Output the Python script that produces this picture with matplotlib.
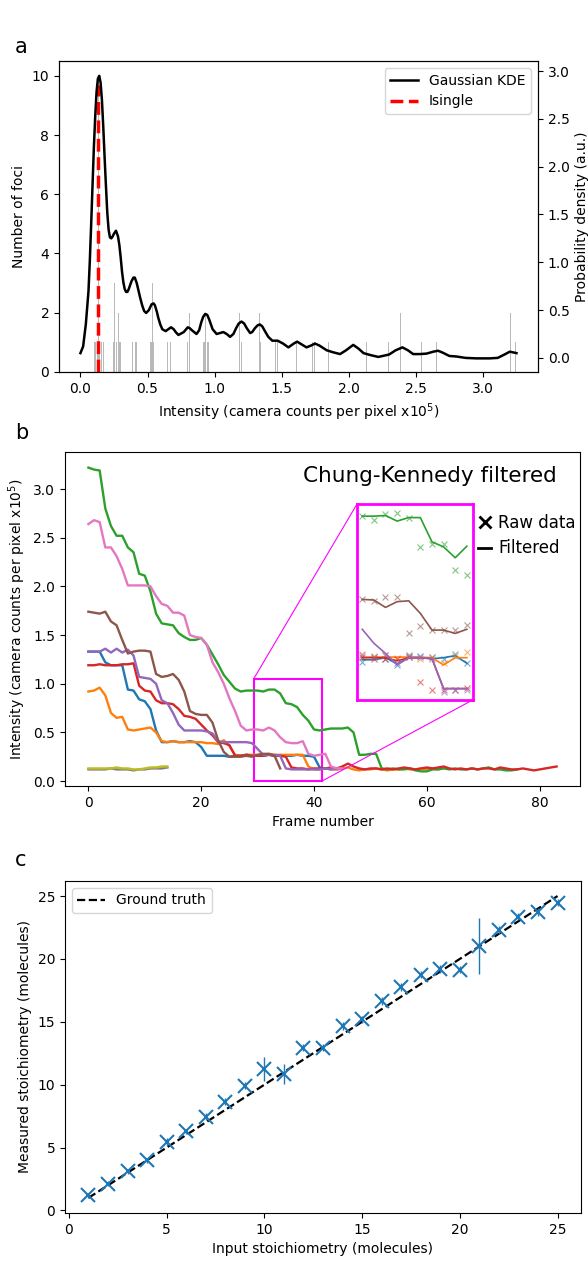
import numpy as np
import matplotlib
matplotlib.use("Agg")
import matplotlib.pyplot as plt
from matplotlib.lines import Line2D
from matplotlib.patches import Rectangle, ConnectionPatch

# ---------------- panel a data ----------------
hist_x = [0.105, 0.115, 0.125, 0.133, 0.145, 0.155, 0.170,
          0.245, 0.257, 0.265, 0.272, 0.283, 0.290, 0.298,
          0.390, 0.399, 0.410, 0.420,
          0.520, 0.530, 0.540, 0.548,
          0.650, 0.670,
          0.798, 0.811,
          0.915, 0.925, 0.933, 0.945, 0.955,
          1.055,
          1.188, 1.200,
          1.333, 1.345,
          1.455, 1.470,
          1.610,
          1.730, 1.745,
          1.850,
          2.130,
          2.295,
          2.386,
          2.540,
          2.655,
          3.205, 3.245]
hist_n = [1, 1, 1, 10, 1, 1, 1,
          1, 3, 2, 1, 2, 1, 1,
          1, 2, 1, 1,
          1, 1, 3, 1,
          1, 1,
          1, 2,
          1, 1, 2, 1, 1,
          1,
          2, 1,
          2, 1,
          1, 1,
          1,
          1, 1,
          1,
          1,
          1,
          2,
          1,
          1,
          2, 1]

kde_x = [0.00, 0.02, 0.04, 0.06, 0.07, 0.08, 0.09, 0.10, 0.11, 0.12,
         0.13, 0.14, 0.15, 0.16, 0.17, 0.18, 0.19, 0.20, 0.21, 0.22,
         0.23, 0.24, 0.25, 0.265, 0.28, 0.29, 0.30, 0.31, 0.32, 0.33,
         0.34, 0.35, 0.36, 0.38, 0.395, 0.405, 0.42, 0.43, 0.445, 0.46,
         0.475, 0.49, 0.51, 0.53, 0.545, 0.555, 0.57, 0.58, 0.595, 0.61,
         0.635, 0.655, 0.675, 0.695, 0.71, 0.73, 0.77, 0.80, 0.815, 0.83,
         0.865, 0.885, 0.90, 0.915, 0.93, 0.945, 0.96, 0.985, 1.015, 1.04,
         1.065, 1.09, 1.115, 1.14, 1.16, 1.18, 1.20, 1.22, 1.24, 1.265,
         1.28, 1.30, 1.32, 1.337, 1.355, 1.375, 1.40, 1.43, 1.47, 1.51,
         1.55, 1.59, 1.615, 1.65, 1.685, 1.72, 1.748, 1.78, 1.835, 1.88,
         1.935, 1.98, 2.033, 2.07, 2.11, 2.16, 2.22, 2.30, 2.35, 2.40,
         2.44, 2.48, 2.53, 2.58, 2.63, 2.665, 2.70, 2.75, 2.80, 2.87,
         2.95, 3.05, 3.11, 3.16, 3.20, 3.25]
kde_y = [0.05, 0.12, 0.35, 0.70, 1.02, 1.40, 1.80, 2.20, 2.52, 2.78,
         2.92, 2.95, 2.88, 2.70, 2.42, 2.10, 1.80, 1.52, 1.34, 1.26,
         1.25, 1.27, 1.30, 1.33, 1.27, 1.18, 1.05, 0.90, 0.79, 0.72,
         0.69, 0.69, 0.72, 0.80, 0.84, 0.84, 0.78, 0.72, 0.63, 0.55,
         0.49, 0.47, 0.50, 0.56, 0.57, 0.55, 0.48, 0.42, 0.35, 0.30,
         0.28, 0.30, 0.32, 0.30, 0.27, 0.24, 0.27, 0.32, 0.31, 0.29,
         0.25, 0.29, 0.37, 0.43, 0.46, 0.45, 0.40, 0.30, 0.25, 0.26,
         0.27, 0.25, 0.22, 0.25, 0.31, 0.36, 0.38, 0.36, 0.31, 0.26,
         0.27, 0.31, 0.34, 0.35, 0.33, 0.28, 0.22, 0.18, 0.18, 0.15,
         0.11, 0.15, 0.17, 0.14, 0.11, 0.13, 0.15, 0.13, 0.08, 0.06,
         0.04, 0.08, 0.136, 0.10, 0.05, 0.03, 0.01, 0.035, 0.08, 0.11,
         0.08, 0.04, 0.04, 0.045, 0.065, 0.075, 0.055, 0.02, 0.015, 0.0,
         -0.005, -0.005, 0.0, 0.035, 0.065, 0.05]
i_single = 0.133

# ---------------- panel b data ----------------
blue = [1.33, 1.33, 1.33, 1.22, 1.19, 1.19, 1.19, 0.94, 0.93, 0.84,
        0.82, 0.74, 0.52, 0.40, 0.40, 0.41, 0.40, 0.40, 0.41, 0.40,
        0.35, 0.26, 0.26, 0.26, 0.26, 0.25, 0.26, 0.26, 0.27, 0.26,
        0.26, 0.26, 0.27, 0.26, 0.26, 0.26, 0.26, 0.27, 0.26, 0.26,
        0.25, 0.14, 0.13, 0.13, 0.12, 0.13]
orange = [0.92, 0.93, 0.96, 0.88, 0.70, 0.65, 0.66, 0.53, 0.52, 0.53,
          0.54, 0.55, 0.50, 0.41, 0.40, 0.41, 0.40, 0.40, 0.40, 0.40,
          0.40, 0.39, 0.39, 0.38, 0.42, 0.36, 0.27, 0.26, 0.27, 0.27,
          0.27, 0.27, 0.28, 0.27, 0.27, 0.27, 0.27, 0.27, 0.27, 0.15,
          0.12, 0.12, 0.13, 0.12, 0.12, 0.13, 0.14, 0.12, 0.11, 0.12,
          0.12, 0.13, 0.12, 0.11, 0.12, 0.12, 0.13, 0.12, 0.12, 0.13,
          0.12, 0.13, 0.12]
green = [3.22, 3.20, 3.19, 2.80, 2.62, 2.52, 2.52, 2.40, 2.35, 2.13,
         2.11, 1.95, 1.72, 1.62, 1.61, 1.60, 1.52, 1.48, 1.45, 1.45,
         1.47, 1.40, 1.30, 1.20, 1.09, 1.02, 0.95, 0.92, 0.93, 0.93,
         0.93, 0.92, 0.94, 0.94, 0.90, 0.80, 0.79, 0.76, 0.68, 0.62,
         0.53, 0.52, 0.53, 0.54, 0.54, 0.54, 0.55, 0.50, 0.27, 0.27,
         0.28, 0.28, 0.13, 0.12, 0.13, 0.12, 0.12, 0.13, 0.11, 0.10,
         0.10, 0.12, 0.12, 0.13, 0.12, 0.13, 0.12, 0.12, 0.13, 0.12,
         0.13, 0.14, 0.12, 0.12, 0.11, 0.11, 0.12]
red = [1.19, 1.19, 1.20, 1.19, 1.19, 1.19, 1.20, 1.20, 1.21,
       0.98, 0.93, 0.92, 0.83, 0.80, 0.80, 0.79, 0.74, 0.67,
       0.66, 0.64, 0.58, 0.52, 0.47, 0.40, 0.39, 0.37,
       0.26, 0.26, 0.27, 0.26, 0.26, 0.26, 0.27, 0.26, 0.26, 0.25,
       0.14, 0.13, 0.13, 0.12, 0.13, 0.13, 0.13, 0.14, 0.13, 0.15,
       0.18, 0.15, 0.13, 0.12, 0.13, 0.13, 0.12, 0.13, 0.12, 0.13,
       0.14, 0.13, 0.12, 0.13, 0.14, 0.13, 0.14, 0.15, 0.13, 0.12,
       0.13, 0.12, 0.13, 0.12, 0.13, 0.13, 0.12, 0.14, 0.13, 0.12,
       0.12, 0.13, 0.12, 0.11, 0.12, 0.13, 0.14, 0.15]
purple = [1.33, 1.33, 1.33, 1.36, 1.32, 1.36, 1.32, 1.35, 1.29, 1.07,
          1.06, 1.05, 1.00, 0.83, 0.80, 0.70, 0.58, 0.52, 0.52, 0.52,
          0.52, 0.51, 0.49, 0.41, 0.40, 0.40, 0.40, 0.40, 0.40, 0.39,
          0.33, 0.27, 0.27, 0.27, 0.26, 0.13, 0.12, 0.12, 0.12, 0.12,
          0.12, 0.12, 0.13, 0.12, 0.13, 0.13]
brown = [1.74, 1.73, 1.72, 1.74, 1.64, 1.60, 1.45, 1.31, 1.33, 1.34,
         1.34, 1.33, 1.10, 1.07, 1.08, 1.10, 1.04, 0.92, 0.72, 0.69,
         0.68, 0.68, 0.60, 0.42, 0.30, 0.25, 0.25, 0.25, 0.26, 0.25,
         0.27, 0.28, 0.28, 0.26, 0.13]
pink = [2.64, 2.68, 2.66, 2.40, 2.40, 2.31, 2.18, 2.01, 2.01, 2.01,
        2.01, 2.00, 1.90, 1.82, 1.80, 1.73, 1.73, 1.70, 1.50, 1.48,
        1.47, 1.40, 1.22, 1.12, 1.00, 0.85, 0.72, 0.57, 0.52, 0.53,
        0.53, 0.52, 0.55, 0.52, 0.45, 0.40, 0.39, 0.39, 0.41, 0.28,
        0.26, 0.27, 0.28, 0.15, 0.13, 0.13]
grey = [0.12, 0.12, 0.12, 0.12, 0.13, 0.12, 0.12, 0.12, 0.11, 0.12,
        0.12, 0.13, 0.13, 0.13, 0.14]
olive = [0.13, 0.13, 0.13, 0.13, 0.13, 0.14, 0.13, 0.13, 0.12, 0.12,
         0.13, 0.14, 0.14, 0.15, 0.15]
traces = [blue, orange, green, red, purple, brown, pink, grey, olive]

# inset (zoomed segment, raw 'x' and filtered line)
ins_frames = [30, 31, 32, 33, 34, 35, 36, 37, 38, 39]
ins_green_f = [0.942, 0.942, 0.945, 0.918, 0.935, 0.935, 0.817, 0.793, 0.740, 0.796]
ins_green_r = [0.942, 0.922, 0.952, 0.958, 0.931, 0.793, 0.809, 0.809, 0.680, 0.656]
ins_brown_f = [0.538, 0.535, 0.499, 0.527, 0.531, 0.470, 0.389, 0.389, 0.373, 0.393]
ins_brown_r = [0.538, 0.530, 0.548, 0.548, 0.373, 0.408, 0.389, 0.389, 0.389, 0.413]
ins_blue_f = [0.245, 0.245, 0.255, 0.225, 0.255, 0.255, 0.250, 0.255, 0.265, 0.228]
ins_blue_r = [0.235, 0.260, 0.250, 0.220, 0.270, 0.265, 0.260, 0.250, 0.275, 0.230]
ins_orange_f = [0.258, 0.258, 0.258, 0.258, 0.258, 0.258, 0.255, 0.220, 0.255, 0.255]
ins_orange_r = [0.275, 0.262, 0.270, 0.255, 0.265, 0.250, 0.260, 0.230, 0.265, 0.285]
ins_red_f = [0.255, 0.255, 0.255, 0.240, 0.255, 0.255, 0.250, 0.105, 0.105, 0.105]
ins_red_r = [0.260, 0.250, 0.250, 0.250, 0.260, 0.139, 0.098, 0.100, 0.100, 0.110]
ins_purple_f = [0.393, 0.325, 0.276, 0.220, 0.255, 0.255, 0.252, 0.105, 0.105, 0.105]
ins_purple_r = [0.270, 0.260, 0.270, 0.230, 0.260, 0.260, 0.250, 0.090, 0.100, 0.100]

# ---------------- panel c data ----------------
stoich_in = list(range(1, 26))
stoich_meas = [1.21, 2.11, 3.11, 3.98, 5.45, 6.28, 7.46, 8.65, 9.92, 11.23,
               10.84, 12.95, 12.95, 14.66, 15.19, 16.64, 17.75, 18.75, 19.2, 19.15,
               21.04, 22.31, 23.36, 23.73, 24.47]
stoich_err = [0.2, 0.2, 0.2, 0.2, 0.3, 0.2, 0.3, 0.3, 0.3, 0.95,
              0.8, 0.3, 0.3, 0.3, 0.3, 0.3, 0.3, 0.3, 0.3, 0.3,
              2.25, 0.3, 0.3, 0.3, 0.3]

plt.rcParams['font.size'] = 10

fig = plt.figure(figsize=(5.88, 12.63), dpi=100)

# ---------------- panel a ----------------
ax_a = fig.add_axes([0.1003, 0.7055, 0.8146, 0.2462])
ax_a.bar(hist_x, hist_n, width=0.007, color='grey', alpha=0.55, lw=0)
ax_a.plot([i_single, i_single], [0, 9.7], 'r--', lw=2.5)
ax_a.set_ylim(0, 10.5)
ax_a.set_xlim(-0.16, 3.41)
ax_a.set_ylabel('Number of foci')
ax_a.set_xlabel('Intensity (camera counts per pixel x10$^5$)')
ax_a2 = ax_a.twinx()
ax_a2.plot(kde_x, kde_y, color='k', lw=1.8)
ax_a2.set_ylim(-0.147, 3.105)
ax_a2.set_ylabel('Probability density (a.u.)')
ax_a2.legend([Line2D([], [], color='k', lw=1.8), Line2D([], [], color='r', ls='--', lw=2.5)],
             ['Gaussian KDE', 'Isingle'], loc='upper right')

# ---------------- panel b ----------------
ax_b = fig.add_axes([0.1105, 0.3777, 0.8759, 0.2644])
for i, tr in enumerate(traces):
    ax_b.plot(np.arange(len(tr)), tr, color='C%d' % i, lw=1.7)
ax_b.set_xlim(-4.15, 87.15)
ax_b.set_ylim(-0.05, 3.38)
ax_b.set_xticks([0, 20, 40, 60, 80])
ax_b.set_xlabel('Frame number')
ax_b.set_ylabel('Intensity (camera counts per pixel x10$^5$)')
ax_b.text(0.955, 0.928, 'Chung-Kennedy filtered', transform=ax_b.transAxes,
          ha='right', va='center', fontsize=15.5)
ax_b.add_patch(Rectangle((29.3, 0.0), 12.1, 1.05, fill=False, ec='magenta', lw=1.5))

axins = fig.add_axes([0.607, 0.4458, 0.197, 0.155])
ins_sets = [(ins_blue_f, ins_blue_r, 'C0'), (ins_orange_f, ins_orange_r, 'C1'),
            (ins_green_f, ins_green_r, 'C2'), (ins_red_f, ins_red_r, 'C3'),
            (ins_purple_f, ins_purple_r, 'C4'), (ins_brown_f, ins_brown_r, 'C5')]
for filt, raw, col in ins_sets:
    axins.plot(ins_frames, raw, marker='x', ls='none', color=col, ms=4, mew=0.8, alpha=0.6)
    axins.plot(ins_frames, filt, color=col, lw=1.2)
axins.set_xlim(29.54, 39.51)
axins.set_ylim(0.05, 1.0)
axins.set_xticks([])
axins.set_yticks([])
for sp in axins.spines.values():
    sp.set_color('magenta')
    sp.set_linewidth(2)

cp1 = ConnectionPatch(xyA=(29.3, 1.05), coordsA=ax_b.transData, xyB=(0, 1),
                      coordsB=axins.transAxes, color='magenta', lw=0.8)
cp2 = ConnectionPatch(xyA=(41.4, 0.0), coordsA=ax_b.transData, xyB=(1, 0),
                      coordsB=axins.transAxes, color='magenta', lw=0.8)
fig.add_artist(cp1)
fig.add_artist(cp2)

fig.legend([Line2D([], [], marker='x', ls='none', color='k', ms=8, mew=2),
            Line2D([], [], color='k', lw=2)],
           ['Raw data', 'Filtered'], loc='upper left',
           bbox_to_anchor=(478 / 588, 1 - 514 / 1263), frameon=False,
           handlelength=0.8, handletextpad=0.4, borderpad=0, borderaxespad=0,
           labelspacing=0.45, fontsize=12)

# ---------------- panel c ----------------
ax_c = fig.add_axes([0.1105, 0.0396, 0.8776, 0.2629])
ax_c.plot([1, 25], [1, 25], 'k--', lw=1.6, label='Ground truth')
ax_c.errorbar(stoich_in, stoich_meas, yerr=stoich_err, fmt='x', color='C0',
              ms=10, mew=1.5, elinewidth=1, capsize=0)
ax_c.set_xlim(-0.2, 26.2)
ax_c.set_ylim(-0.2, 26.2)
ax_c.set_xticks([0, 5, 10, 15, 20, 25])
ax_c.set_yticks([0, 5, 10, 15, 20, 25])
ax_c.set_xlabel('Input stoichiometry (molecules)')
ax_c.set_ylabel('Measured stoichiometry (molecules)')
ax_c.legend(loc='upper left')

fig.text(15 / 588, 1 - 47 / 1263, 'a', fontsize=15, ha='left', va='center')
fig.text(15 / 588, 1 - 433 / 1263, 'b', fontsize=15, ha='left', va='center')
fig.text(15 / 588, 1 - 860 / 1263, 'c', fontsize=15, ha='left', va='center')

fig.savefig('out.png', dpi=100)
